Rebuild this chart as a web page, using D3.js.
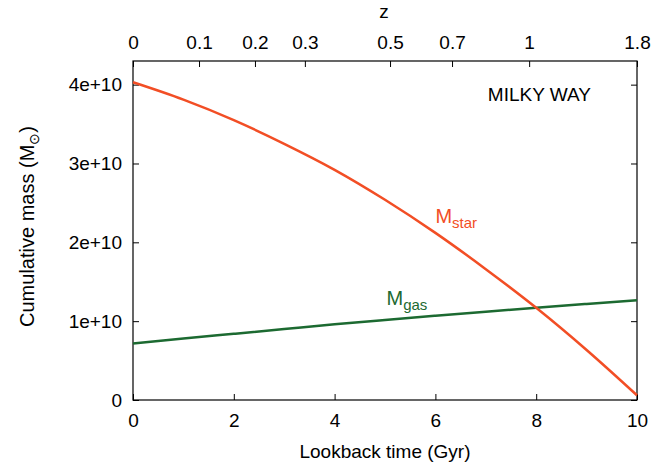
<!DOCTYPE html>
<html>
<head>
<meta charset="utf-8">
<script src="https://cdn.jsdelivr.net/npm/d3@7"></script>
<style>
  body { margin: 0; background: #fff; }
  text { font-family: "Liberation Sans", Arial, sans-serif; }
</style>
</head>
<body>
<script>
// lookback time (Gyr)
var times = [0, 1, 2, 3, 4, 5, 6, 7, 8, 9, 10];
// cumulative masses (Msun)
var mStar = [4.03e10, 3.81e10, 3.55e10, 3.25e10, 2.92e10, 2.54e10, 2.12e10, 1.66e10, 1.17e10, 0.635e10, 0.06e10];
var mGas  = [0.717e10, 0.78e10, 0.84e10, 0.90e10, 0.96e10, 1.015e10, 1.068e10, 1.12e10, 1.17e10, 1.218e10, 1.265e10];
// top axis: redshift ticks and their lookback times
var zLabels = ["0", "0.1", "0.2", "0.3", "0.5", "0.7", "1", "1.8"];
var zTimes  = [0, 1.31, 2.42, 3.41, 5.1, 6.33, 7.86, 10];
var xTicks = [0, 2, 4, 6, 8, 10];
var yTicks = [0, 1e10, 2e10, 3e10, 4e10];
var yTickLabels = ["0", "1e+10", "2e+10", "3e+10", "4e+10"];

var width = 670, height = 464;
var margin = {left: 133, right: 33, top: 61, bottom: 64};
var w = width - margin.left - margin.right;
var h = height - margin.top - margin.bottom;

var colStar = "#f24e25";
var colGas = "#1c6a31";
var fs = "19px";

var svg = d3.select("body").append("svg")
            .attr("width", width)
            .attr("height", height);

var g = svg.append("g")
           .attr("transform", "translate(" + margin.left + "," + margin.top + ")");

var x = d3.scaleLinear().domain([0, 10]).range([0, w]);
var y = d3.scaleLinear().domain([0, 4.3e10]).range([h, 0]);

// axes, ticks pointing inward
var xAxis = d3.axisBottom(x).tickValues(xTicks).tickSizeInner(-6).tickSizeOuter(0).tickPadding(14)
              .tickFormat(function(d){return d;});
var yAxis = d3.axisLeft(y).tickValues(yTicks).tickSizeInner(-6).tickSizeOuter(0).tickPadding(11)
              .tickFormat(function(d, i){return yTickLabels[i];});
var yAxisR = d3.axisRight(y).tickValues(yTicks).tickSizeInner(-6).tickSizeOuter(0).tickFormat("");
var zAxis = d3.axisTop(x).tickValues(zTimes).tickSizeInner(-6).tickSizeOuter(0).tickPadding(12)
              .tickFormat(function(d, i){return zLabels[i];});

var axes = [
  g.append("g").attr("transform", "translate(0," + h + ")").call(xAxis),
  g.append("g").call(yAxis),
  g.append("g").attr("transform", "translate(" + w + ",0)").call(yAxisR),
  g.append("g").call(zAxis)
];
axes.forEach(function(a){
  a.select(".domain").remove();
  a.selectAll("line").attr("stroke", "#000").attr("stroke-width", 1);
  a.selectAll("text").attr("font-size", fs).attr("fill", "#000")
   .style("font-family", "'Liberation Sans', Arial, sans-serif");
});

// frame
g.append("rect")
 .attr("x", 0).attr("y", 0).attr("width", w).attr("height", h)
 .attr("fill", "none").attr("stroke", "#000").attr("stroke-width", 1.2);

var line = d3.line().curve(d3.curveMonotoneX);

g.append("path")
 .attr("d", line(times.map(function(t, i){return [x(t), y(mGas[i])];})))
 .attr("fill", "none").attr("stroke", colGas).attr("stroke-width", 2.5);

g.append("path")
 .attr("d", line(times.map(function(t, i){return [x(t), y(mStar[i])];})))
 .attr("fill", "none").attr("stroke", colStar).attr("stroke-width", 2.5);

// curve labels
var lbStar = g.append("text").attr("x", x(6.0)).attr("y", y(2.24e10)).attr("fill", colStar).attr("font-size", "20px");
lbStar.append("tspan").text("M");
lbStar.append("tspan").attr("dy", 5).attr("font-size", "15px").text("star");

var lbGas = g.append("text").attr("x", x(5.03)).attr("y", y(1.21e10)).attr("fill", colGas).attr("font-size", "20px");
lbGas.append("tspan").text("M");
lbGas.append("tspan").attr("dy", 5).attr("font-size", "15px").text("gas");

g.append("text").attr("x", x(7.04)).attr("y", y(3.79e10)).attr("font-size", fs).attr("fill", "#000")
 .text("MILKY WAY");

// axis titles
svg.append("text").attr("x", margin.left + w / 2).attr("y", 458).attr("text-anchor", "middle")
   .attr("font-size", fs).text("Lookback time (Gyr)");

svg.append("text").attr("x", margin.left + w / 2 - 1).attr("y", 18).attr("text-anchor", "middle")
   .attr("font-size", fs).text("z");

var yl = svg.append("text")
   .attr("transform", "translate(34," + (margin.top + h / 2 - 4) + ") rotate(-90)")
   .attr("text-anchor", "middle").attr("font-size", "20px");
yl.append("tspan").text("Cumulative mass (M");
yl.append("tspan").attr("dy", 5).attr("font-size", "14px").text("\u2299");
yl.append("tspan").attr("dy", -5).text(")");
</script>
</body>
</html>
